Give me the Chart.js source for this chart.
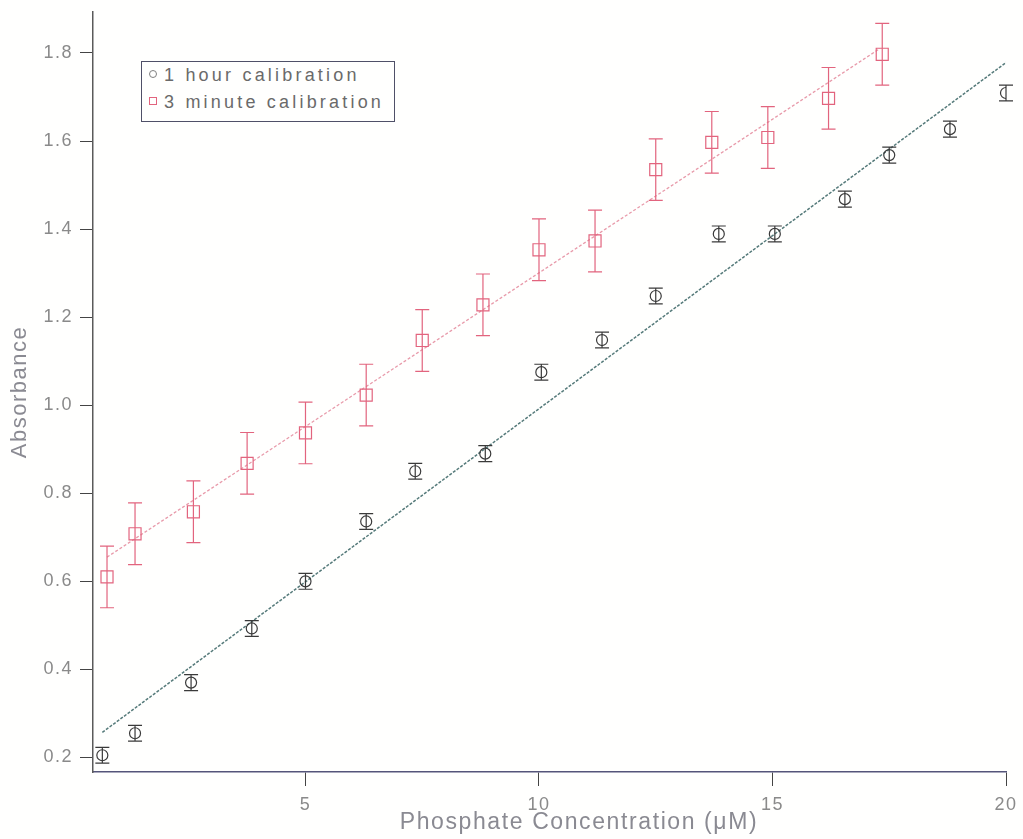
<!DOCTYPE html>
<html lang="en">
<head>
    <meta charset="UTF-8">
    <title>Phosphate Calibration</title>
    <script src="https://cdn.jsdelivr.net/npm/chart.js@4.4.1/dist/chart.umd.min.js"></script>
    <style>
        body {
            margin: 0;
            background-color: #fffffe;
            font-family: "Liberation Sans", Arial, sans-serif;
        }
        .wrap {
            position: relative;
            width: 1023px;
            height: 839px;
        }
        #legend {
            position: absolute;
            left: 141px;
            top: 61px;
            width: 252px;
            height: 59px;
            border: 1px solid #4f5068;
            background: #fffffe;
            color: #6a6a6a;
            font-size: 18px;
            letter-spacing: 3.2px;
        }
        .legend-row {
            position: absolute;
            left: 7px;
            white-space: nowrap;
        }
        .sym {
            display: inline-block;
            width: 6px;
            height: 6px;
            margin-right: 7px;
            vertical-align: 3px;
        }
    </style>
</head>
<body>
    <div class="wrap">
        <canvas id="chart" width="1023" height="839"></canvas>
        <div id="legend"></div>
    </div>

    <script>
        // 1 hour calibration
        const hourX = [0.65, 1.35, 2.55, 3.85, 5.0, 6.3, 7.35, 8.85, 10.05, 11.35, 12.5, 13.85, 15.05, 16.55, 17.5, 18.8, 20.0];
        const hourY = [0.205, 0.255, 0.37, 0.493, 0.6, 0.736, 0.85, 0.89, 1.075, 1.148, 1.248, 1.389, 1.389, 1.468, 1.568, 1.627, 1.709];
        const hourErr = [0.018, 0.018, 0.018, 0.018, 0.018, 0.018, 0.018, 0.018, 0.018, 0.018, 0.018, 0.018, 0.018, 0.018, 0.018, 0.018, 0.018];

        // 3 minute calibration
        const minX = [0.75, 1.35, 2.6, 3.75, 5.0, 6.3, 7.5, 8.8, 10.0, 11.2, 12.5, 13.7, 14.9, 16.2, 17.35];
        const minY = [0.61, 0.708, 0.758, 0.868, 0.937, 1.023, 1.147, 1.228, 1.353, 1.373, 1.535, 1.597, 1.608, 1.697, 1.797];
        const minErr = [0.07, 0.07, 0.07, 0.07, 0.07, 0.07, 0.07, 0.07, 0.07, 0.07, 0.07, 0.07, 0.07, 0.07, 0.07];

        // fit line end points
        const hourFitX = [0.65, 20.05];
        const hourFitY = [0.257, 1.782];
        const minFitX = [0.75, 17.3];
        const minFitY = [0.655, 1.81];

        const xTicks = [5, 10, 15, 20];
        const yTicks = [0.2, 0.4, 0.6, 0.8, 1.0, 1.2, 1.4, 1.6, 1.8];
        const seriesLabels = ['1 hour calibration', '3 minute calibration'];
        const xTitle = 'Phosphate Concentration (\u03bcM)';

        const BLACK = '#3a3a3a';
        const RED = '#e2647e';

        const toPoints = (xs, ys) => xs.map((x, i) => ({ x: x, y: ys[i] }));

        const spacing = {
            id: 'spacing',
            beforeLayout(chart) { chart.ctx.letterSpacing = '1.5px'; },
            beforeDraw(chart) { chart.ctx.letterSpacing = '1.5px'; }
        };

        // x title sits a little right of the plot centre in the original
        const xTitlePlugin = {
            id: 'xTitle',
            afterDraw(chart) {
                const c = chart.ctx;
                c.save();
                c.font = '23px "Liberation Sans"';
                c.letterSpacing = '1.6px';
                c.fillStyle = '#8a8a92';
                c.textAlign = 'center';
                c.textBaseline = 'middle';
                c.fillText(xTitle, 579, 823);
                c.restore();
            }
        };

        const errorBars = {
            id: 'errorBars',
            afterDatasetsDraw(chart) {
                const ctx = chart.ctx;
                const xs = chart.scales.x, ys = chart.scales.y;
                chart.data.datasets.forEach(ds => {
                    if (!ds.errors) return;
                    ctx.save();
                    ctx.strokeStyle = ds.borderColor;
                    ctx.lineWidth = 1.2;
                    ds.data.forEach((p, i) => {
                        const px = xs.getPixelForValue(p.x);
                        const top = ys.getPixelForValue(p.y + ds.errors[i]);
                        const bot = ys.getPixelForValue(p.y - ds.errors[i]);
                        ctx.beginPath();
                        ctx.moveTo(px, top); ctx.lineTo(px, bot);
                        ctx.moveTo(px - 7, top); ctx.lineTo(px + 7, top);
                        ctx.moveTo(px - 7, bot); ctx.lineTo(px + 7, bot);
                        ctx.stroke();
                    });
                    ctx.restore();
                });
            }
        };

        const ctx = document.getElementById('chart').getContext('2d');
        new Chart(ctx, {
            type: 'scatter',
            data: {
                datasets: [
                    {
                        label: seriesLabels[0],
                        data: toPoints(hourX, hourY),
                        errors: hourErr,
                        borderColor: BLACK,
                        backgroundColor: 'rgba(0,0,0,0)',
                        pointStyle: 'circle',
                        pointRadius: 5.5,
                        borderWidth: 1.2,
                        order: 1
                    },
                    {
                        label: seriesLabels[1],
                        data: toPoints(minX, minY),
                        errors: minErr,
                        borderColor: RED,
                        backgroundColor: 'rgba(0,0,0,0)',
                        pointStyle: 'rect',
                        pointRadius: 8.5,
                        borderWidth: 1.2,
                        order: 1
                    },
                    {
                        label: 'fit 1 hour',
                        data: toPoints(hourFitX, hourFitY),
                        showLine: true,
                        borderColor: '#557a7a',
                        borderWidth: 1.5,
                        borderDash: [3, 1.5],
                        pointRadius: 0,
                        order: 2
                    },
                    {
                        label: 'fit 3 minute',
                        data: toPoints(minFitX, minFitY),
                        showLine: true,
                        borderColor: '#e89aaa',
                        borderWidth: 1.3,
                        borderDash: [3, 2],
                        pointRadius: 0,
                        order: 2
                    }
                ]
            },
            options: {
                responsive: false,
                animation: false,
                layout: { padding: { left: 0, right: 17, top: 12, bottom: 0 } },
                plugins: {
                    legend: { display: false },
                    tooltip: { enabled: false }
                },
                scales: {
                    x: {
                        type: 'linear',
                        min: 0.45,
                        max: 20,
                        afterBuildTicks: s => { s.ticks = xTicks.map(v => ({ value: v })); },
                        afterFit: s => {
                            s.height = 67;
                            s.paddingLeft = 0;
                            s.paddingRight = 0;
                        },
                        border: { color: '#55557a', width: 1.5 },
                        grid: { drawOnChartArea: false, drawTicks: true, tickLength: 14, color: '#444' },
                        ticks: {
                            color: '#8a8a8a',
                            font: { family: 'Liberation Sans', size: 18 },
                            padding: 8,
                            maxRotation: 0,
                            callback: v => String(v)
                        },
                        title: { display: false }
                    },
                    y: {
                        type: 'linear',
                        min: 0.167,
                        max: 1.893,
                        afterBuildTicks: s => { s.ticks = yTicks.map(v => ({ value: v })); },
                        afterFit: s => {
                            s.width = 93;
                            s.paddingTop = 0;
                            s.paddingBottom = 0;
                        },
                        border: { color: '#5a5a5a', width: 1.5 },
                        grid: { drawOnChartArea: false, drawTicks: true, tickLength: 13, color: '#444' },
                        ticks: {
                            color: '#8a8a8a',
                            font: { family: 'Liberation Sans', size: 18 },
                            padding: 7,
                            callback: v => v.toFixed(1)
                        },
                        title: {
                            display: true,
                            text: 'Absorbance',
                            color: '#8a8a92',
                            font: { family: 'Liberation Sans', size: 22 },
                            padding: { top: 7, bottom: 0 }
                        }
                    }
                }
            },
            plugins: [spacing, errorBars, xTitlePlugin]
        });

        // legend box inside the plot, as in the original figure
        const legend = document.getElementById('legend');
        const symbols = [
            'border:1.2px solid #808080; border-radius:50%;',
            'border:1.2px solid ' + RED + ';'
        ];
        seriesLabels.forEach((lab, i) => {
            const row = document.createElement('div');
            row.className = 'legend-row';
            row.style.top = (3 + i * 27) + 'px';
            row.innerHTML = '<span class="sym" style="' + symbols[i] + '"></span>' + lab;
            legend.appendChild(row);
        });
    </script>
</body>
</html>
